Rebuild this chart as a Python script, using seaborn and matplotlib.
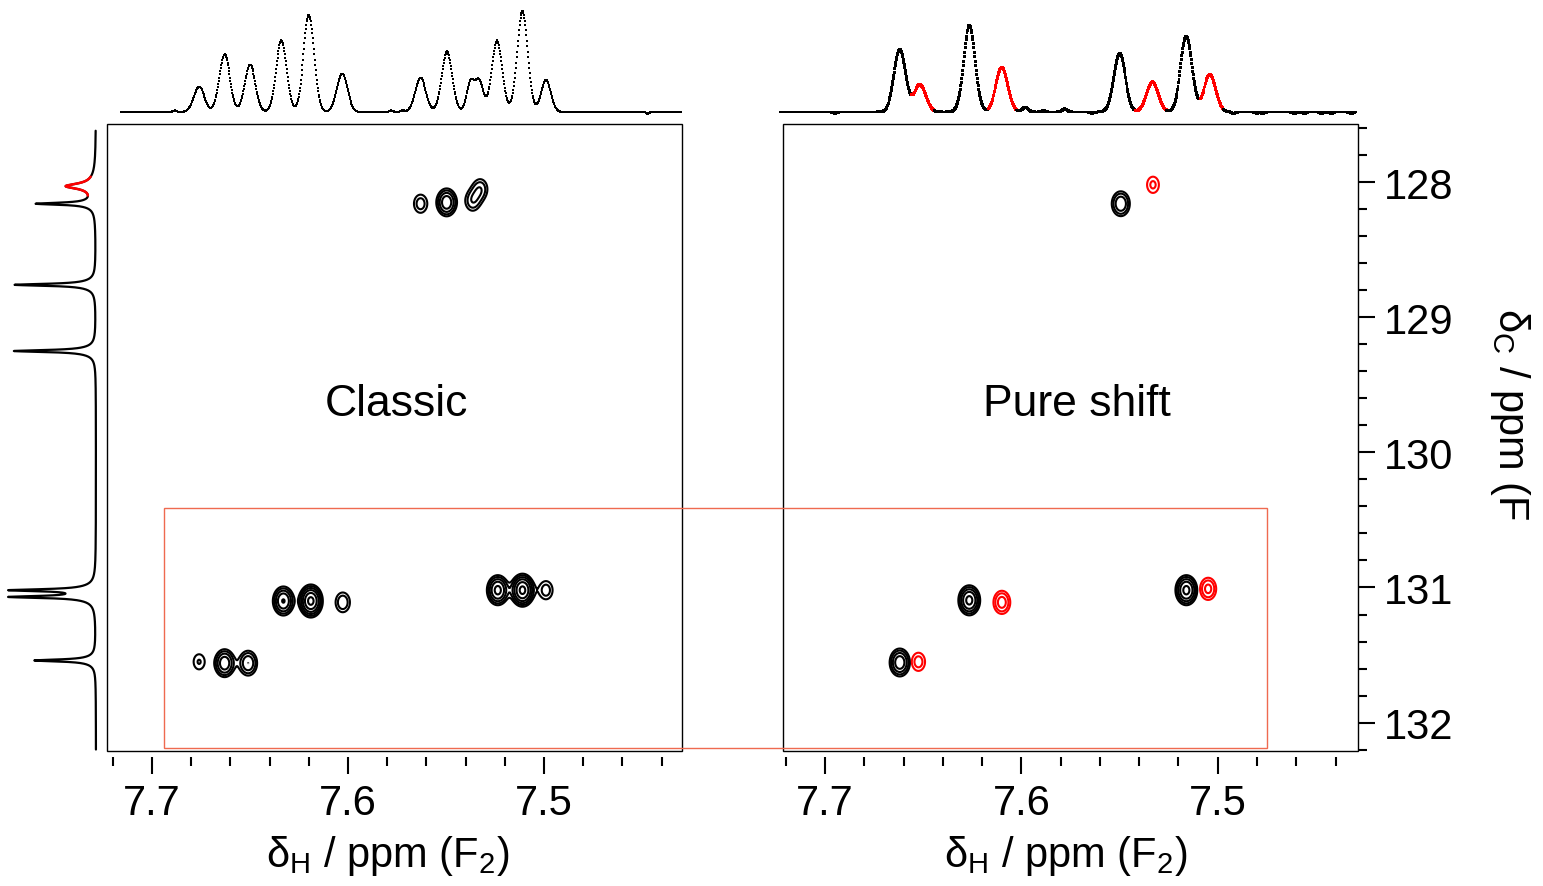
import numpy as np
import pandas as pd
import matplotlib
matplotlib.use("Agg")
import matplotlib.pyplot as plt
import seaborn as sns
from matplotlib.patches import Rectangle
from matplotlib.ticker import MultipleLocator

# ------------------------------------------------------------------ data
# F2 (1H) projection above the "Classic" panel: peak positions / heights / widths (ppm)
classic_f2_ppm = [7.6885, 7.676, 7.663, 7.650, 7.634, 7.620, 7.603, 7.578, 7.572,
                  7.563, 7.5495, 7.5375, 7.533, 7.524, 7.511, 7.499, 7.447]
classic_f2_int = [0.015, 0.25, 0.57, 0.47, 0.71, 0.96, 0.38, 0.015, 0.015,
                  0.34, 0.60, 0.30, 0.30, 0.71, 1.00, 0.32, -0.02]
classic_f2_wid = [0.0010, 0.0027, 0.0027, 0.0027, 0.0027, 0.0027, 0.0027, 0.0010, 0.0010,
                  0.0027, 0.0027, 0.0020, 0.0020, 0.0027, 0.0027, 0.0025, 0.0006]

# F2 projection above the "Pure shift" panel
pure_f2_ppm = [7.662, 7.6517, 7.6265, 7.610, 7.550, 7.5333, 7.516, 7.504,
               7.695, 7.598, 7.589, 7.578, 7.564, 7.492, 7.480, 7.477,
               7.461, 7.456, 7.447, 7.442, 7.432]
pure_f2_int = [0.62, 0.27, 0.86, 0.44, 0.58, 0.30, 0.75, 0.37,
               -0.02, 0.045, 0.012, 0.03, -0.012, -0.02, -0.02, -0.02,
               -0.018, -0.018, -0.018, -0.018, -0.018]
pure_f2_wid = [0.0029, 0.0030, 0.0029, 0.0030, 0.0029, 0.0030, 0.0029, 0.0030,
               0.0006, 0.0015, 0.0010, 0.0012, 0.0008, 0.0007, 0.0006, 0.0006,
               0.0006, 0.0006, 0.0006, 0.0006, 0.0006]
pure_red_from = [7.656, 7.617, 7.542, 7.509]
pure_red_to = [7.6445, 7.6026, 7.526, 7.4972]

# F1 (13C) projection on the left
f1_ppm = [128.03, 128.16, 128.76, 129.25, 131.02, 131.07, 131.54]
f1_int = [0.36, 0.71, 0.99, 1.00, 1.00, 1.00, 0.75]
f1_wid = [0.022, 0.0085, 0.0085, 0.0085, 0.0085, 0.0085, 0.0085]
f1_red_from, f1_red_to = 127.96, 128.10

# 2D cross peaks, Classic panel
classic_x = [7.676, 7.663, 7.651, 7.633, 7.619, 7.6027, 7.5236, 7.511, 7.499,
             7.563, 7.5497, 7.5365, 7.5325]
classic_y = [131.55, 131.56, 131.56, 131.10, 131.10, 131.11, 131.02, 131.02, 131.02,
             128.16, 128.15, 128.14, 128.05]
classic_a = [1.5, 4.0, 3.0, 4.5, 7.0, 2.0, 5.0, 7.0, 1.8,
             1.8, 4.0, 1.9, 1.9]

# 2D cross peaks, Pure shift panel
pure_black_x = [7.662, 7.6266, 7.516, 7.5494]
pure_black_y = [131.555, 131.095, 131.02, 128.16]
pure_black_a = [4.0, 5.0, 5.0, 3.0]
pure_red_x = [7.6525, 7.610, 7.5049, 7.533]
pure_red_y = [131.55, 131.11, 131.01, 128.02]
pure_red_a = [1.8, 2.6, 2.4, 1.6]

contour_levels = [1.0, 1.45, 2.1, 3.0, 4.4, 6.3]

x_ticks_major = [7.7, 7.6, 7.5]
y_ticks_major = [128, 129, 130, 131, 132]

# ------------------------------------------------------------------ style
sns.set_theme(style="ticks")
plt.rcParams["font.family"] = ["Liberation Sans", "DejaVu Sans"]
plt.rcParams["mathtext.fontset"] = "custom"
plt.rcParams["mathtext.rm"] = "Liberation Sans"
plt.rcParams["mathtext.it"] = "Liberation Sans:italic"
plt.rcParams["mathtext.bf"] = "Liberation Sans:bold"
plt.rcParams["text.color"] = "black"

W, H = 1543, 887
fig = plt.figure(figsize=(W / 100, H / 100), dpi=100)


def px_axes(x0, y0, x1, y1):
    return fig.add_axes([x0 / W, 1 - y1 / H, (x1 - x0) / W, (y1 - y0) / H])


ax_l = px_axes(107, 125, 682, 752)
ax_r = px_axes(783, 125, 1357.5, 752)
ax_lt = px_axes(107, 0, 682, 120)
ax_rt = px_axes(783, 0, 1357.5, 120)
ax_s = px_axes(0, 125, 105, 752)

XL_L = (7.723, 7.4296)
XL_R = (7.7215, 7.4288)
YL = (132.21, 127.57)


def gauss_sum(x, cs, hs, ws):
    out = np.zeros_like(x)
    for c, h, w in zip(cs, hs, ws):
        out += h * np.exp(-0.5 * ((x - c) / w) ** 2)
    return out


# ---------------------------------------------------------- top spectra
xs_l = np.arange(7.716, 7.4300, -0.00025)
df_l = pd.DataFrame({"ppm": xs_l,
                     "I": gauss_sum(xs_l, classic_f2_ppm, classic_f2_int, classic_f2_wid)})
sns.scatterplot(data=df_l, x="ppm", y="I", ax=ax_lt, color="black", marker="s",
                s=4.5, linewidth=0, clip_on=False, legend=False)

xs_r = np.arange(7.723, 7.4300, -0.00025)
seg = np.array(["main"] * len(xs_r), dtype=object)
for a, b in zip(pure_red_from, pure_red_to):
    seg[(xs_r <= a) & (xs_r >= b)] = "sel"
df_r = pd.DataFrame({"ppm": xs_r,
                     "I": gauss_sum(xs_r, pure_f2_ppm, pure_f2_int, pure_f2_wid),
                     "seg": seg})
sns.scatterplot(data=df_r, x="ppm", y="I", hue="seg", ax=ax_rt,
                palette={"main": "black", "sel": "#ff0000"}, marker="s",
                s=4.5, linewidth=0, clip_on=False, legend=False)

for ax, xl in ((ax_lt, XL_L), (ax_rt, XL_R)):
    ax.set_xlim(xl)
    ax.set_ylim(-0.0693, 1.119)
    ax.axis("off")

# ---------------------------------------------------------- side spectrum
ys = np.arange(127.62, 132.20, 0.001)


def lor(y, c, w):
    return 1.0 / (1.0 + ((y - c) / w) ** 2)


side = np.zeros_like(ys)
for c, h, w in zip(f1_ppm, f1_int, f1_wid):
    side += h * (0.85 * lor(ys, c, w) + 0.15 * lor(ys, c, 4 * w))
df_s = pd.DataFrame({"ppm": ys, "I": side})
sns.lineplot(data=df_s, x="I", y="ppm", ax=ax_s, sort=False, estimator=None,
             orient="y", color="black", lw=1.6)
df_sr = df_s[(df_s.ppm >= f1_red_from) & (df_s.ppm <= f1_red_to)]
sns.lineplot(data=df_sr, x="I", y="ppm", ax=ax_s, sort=False, estimator=None,
             orient="y", color="#ff0000", lw=1.8)
ax_s.set_xlim(1.1707, -0.1098)
ax_s.set_ylim(YL)
ax_s.axis("off")

# ---------------------------------------------------------- 2D contours
gx = np.linspace(7.74, 7.41, 720)
gy = np.linspace(127.5, 132.3, 720)
GX, GY = np.meshgrid(gx, gy)


def field(xs, ys_, amps, sx=0.0031, sy=0.062):
    Z = np.zeros_like(GX)
    for x, y, a in zip(xs, ys_, amps):
        Z += a * np.exp(-0.5 * ((GX - x) / sx) ** 2 - 0.5 * ((GY - y) / sy) ** 2)
    return Z


ax_l.contour(GX, GY, field(classic_x, classic_y, classic_a),
             levels=contour_levels, colors="black", linewidths=1.5)
ax_r.contour(GX, GY, field(pure_black_x, pure_black_y, pure_black_a),
             levels=contour_levels, colors="black", linewidths=1.5)
ax_r.contour(GX, GY, field(pure_red_x, pure_red_y, pure_red_a),
             levels=contour_levels, colors="#ff0000", linewidths=1.5)

for ax, xl in ((ax_l, XL_L), (ax_r, XL_R)):
    ax.set_xlim(xl)
    ax.set_ylim(YL)
    ax.set_facecolor("none")
    ax.set_xticks(x_ticks_major)
    ax.set_xticklabels([f"{v:.1f}" for v in x_ticks_major])
    ax.xaxis.set_minor_locator(MultipleLocator(0.02))
    for s in ax.spines.values():
        s.set_color("none")
    ax.spines["bottom"].set_position(("outward", 4))
    ax.tick_params(axis="x", which="major", bottom=True, direction="out", length=12,
                   width=1.5, labelsize=30, pad=7, colors="black")
    ax.tick_params(axis="x", which="minor", bottom=True, direction="out", length=6.5,
                   width=1.5, colors="black")
    ax.add_patch(Rectangle((0, 0), 1, 1, transform=ax.transAxes, fill=False,
                           ec="black", lw=1.0, clip_on=False, zorder=5))
    ax.set_xlabel("")
    ax.set_ylabel("")

ax_l.set_yticks([])
ax_r.yaxis.tick_right()
ax_r.set_yticks(y_ticks_major)
ax_r.set_yticklabels([str(v) for v in y_ticks_major])
ax_r.yaxis.set_minor_locator(MultipleLocator(0.2))
ax_r.tick_params(axis="y", which="major", left=False, right=True, direction="out",
                 length=12, width=1.5, labelsize=30, pad=7, colors="black")
ax_r.tick_params(axis="y", which="minor", left=False, right=True, direction="out",
                 length=6.5, width=1.5, colors="black")

# ---------------------------------------------------------- texts
fig.text(396 / W, 1 - 405 / H, "Classic", ha="center", va="center", fontsize=32,
         color="black")
fig.text(1077 / W, 1 - 405 / H, "Pure shift", ha="center", va="center", fontsize=32,
         color="black")
fig.text(388 / W, 1 - 856 / H, r"δ$_\mathrm{H}$ / ppm (F$_2$)", ha="center",
         va="center", fontsize=30, color="black")
fig.text(1066 / W, 1 - 856 / H, r"δ$_\mathrm{H}$ / ppm (F$_2$)", ha="center",
         va="center", fontsize=30, color="black")
fig.text(1510 / W, 1 - 308 / H, r"δ$_\mathrm{C}$ / ppm (F", rotation=270,
         ha="center", va="top", fontsize=30, color="black")

# ---------------------------------------------------------- highlight box
inv = fig.transFigure.inverted()
p0 = inv.transform(ax_l.transData.transform((7.694, 132.19)))
p1 = inv.transform(ax_r.transData.transform((7.475, 130.41)))
fig.add_artist(Rectangle((p0[0], p0[1]), p1[0] - p0[0], p1[1] - p0[1],
                         transform=fig.transFigure, fill=False, ec="#ef6a50",
                         lw=1.0, zorder=10))

fig.savefig("out.png", dpi=100)
